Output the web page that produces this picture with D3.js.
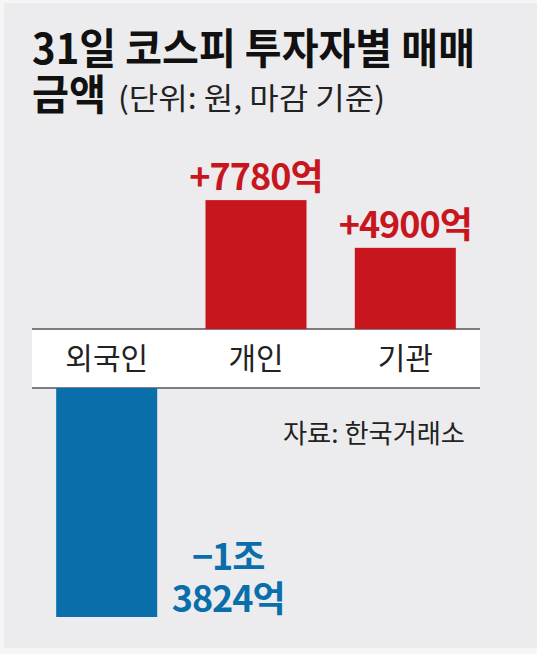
<!DOCTYPE html>
<html>
<head>
<meta charset="utf-8">
<script src="https://cdn.jsdelivr.net/npm/d3@7"></script>
<style>
  html, body { margin: 0; padding: 0; background: #ffffff; }
  svg { display: block; }
  text { font-family: "Noto Sans CJK KR", "Noto Sans", sans-serif; }
</style>
</head>
<body>
<script>
// ---- data ----
const categories = ["외국인", "개인", "기관"];
const values = [-13824, 7780, 4900];            // 억 원
const valueLabels = [["−1조", "3824억"], ["+7780억"], ["+4900억"]];
const titleLines = ["31일 코스피 투자자별 매매", "금액"];
const subtitle = "(단위: 원, 마감 기준)";
const source = "자료: 한국거래소";

// ---- layout ----
const W = 537, H = 654;
const bandTop = 329, bandBottom = 388;
const red = "#c8161e", blue = "#0a6eab";

const svg = d3.select("body").append("svg").attr("width", W).attr("height", H);

// background card
svg.append("rect").attr("x", 0).attr("y", 0).attr("width", W).attr("height", H).attr("fill", "#f6f6f7");
svg.append("rect").attr("x", 4).attr("y", 3).attr("width", W - 4).attr("height", 645).attr("fill", "#ececee");

// title (one text block, two lines)
const title = svg.append("text").attr("fill", "#111");
title.append("tspan").attr("x", 32).attr("y", 64)
  .attr("font-size", 42).attr("font-weight", 700)
  .attr("textLength", 443).attr("lengthAdjust", "spacingAndGlyphs")
  .text(titleLines[0]);
title.append("tspan").attr("x", 32).attr("y", 110)
  .attr("font-size", 42).attr("font-weight", 700)
  .attr("textLength", 74).attr("lengthAdjust", "spacingAndGlyphs")
  .text(titleLines[1]);
title.append("tspan").attr("x", 118).attr("y", 109)
  .attr("font-size", 30).attr("font-weight", 400).attr("fill", "#222")
  .attr("textLength", 267).attr("lengthAdjust", "spacingAndGlyphs")
  .text(subtitle);

// scales
const x = d3.scaleBand().domain(categories).range([32, 480]).paddingInner(0.3235).paddingOuter(0.162);
const maxAbs = d3.max(values, v => Math.abs(v));
const y = d3.scaleLinear().domain([0, maxAbs]).range([0, 229]);

// category band
svg.append("rect").attr("x", 32).attr("y", bandTop).attr("width", 448).attr("height", bandBottom - bandTop).attr("fill", "#ffffff");
svg.append("line").attr("x1", 32).attr("x2", 480).attr("y1", bandTop).attr("y2", bandTop).attr("stroke", "#555").attr("stroke-width", 1.5);
svg.append("line").attr("x1", 32).attr("x2", 480).attr("y1", bandBottom).attr("y2", bandBottom).attr("stroke", "#555").attr("stroke-width", 1.5);

const data = categories.map((c, i) => ({ c, v: values[i], lab: valueLabels[i] }));

// bars
svg.selectAll("rect.bar").data(data).enter().append("rect")
  .attr("class", "bar")
  .attr("x", d => x(d.c))
  .attr("width", x.bandwidth())
  .attr("y", d => d.v >= 0 ? bandTop - y(d.v) : bandBottom)
  .attr("height", d => y(Math.abs(d.v)))
  .attr("fill", d => d.v >= 0 ? red : blue);

// category labels
svg.selectAll("text.cat").data(data).enter().append("text")
  .attr("class", "cat")
  .attr("x", d => x(d.c) + x.bandwidth() / 2)
  .attr("y", 369)
  .attr("text-anchor", "middle")
  .attr("font-size", 30).attr("fill", "#222")
  .text(d => d.c);

// value labels
data.forEach(d => {
  const cxBar = x(d.c) + x.bandwidth() / 2;
  if (d.v >= 0) {
    svg.append("text")
      .attr("x", cxBar)
      .attr("y", bandTop - y(d.v) - 10)
      .attr("text-anchor", "middle")
      .attr("font-size", 36).attr("font-weight", 700).attr("fill", red)
      .attr("letter-spacing", -1)
      .text(d.lab[0]);
  } else {
    const bottom = bandBottom + y(Math.abs(d.v));
    const cx = x(d.c) + x.bandwidth() + 71;
    const t = svg.append("text")
      .attr("text-anchor", "middle")
      .attr("font-size", 36).attr("font-weight", 700).attr("fill", blue)
      .attr("letter-spacing", -1);
    d.lab.forEach((line, j) => {
      t.append("tspan")
        .attr("x", cx)
        .attr("y", bottom - 5 - (d.lab.length - 1 - j) * 42)
        .text(line);
    });
  }
});

// source
svg.append("text").attr("x", 465).attr("y", 443)
  .attr("text-anchor", "end").attr("font-size", 26).attr("fill", "#222")
  .attr("textLength", 182).attr("lengthAdjust", "spacingAndGlyphs")
  .text(source);
</script>
</body>
</html>
